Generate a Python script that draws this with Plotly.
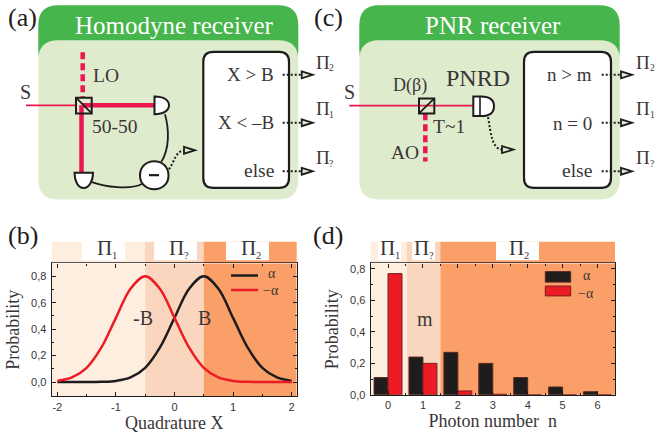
import plotly.graph_objects as go

W, H = 655, 436

# ---- data ----
quadrature_x = [-2, -1.75, -1.5, -1.25, -1, -0.75, -0.5, -0.25, 0, 0.25, 0.5, 0.75, 1, 1.25, 1.5, 1.75, 2]
prob_alpha = [0, 0, 0, 0.002, 0.009, 0.035, 0.108, 0.26, 0.485, 0.706, 0.8, 0.706, 0.485, 0.26, 0.108, 0.035, 0.009]
prob_minus_alpha = [0.009, 0.035, 0.108, 0.26, 0.485, 0.706, 0.8, 0.706, 0.485, 0.26, 0.108, 0.035, 0.009, 0.002, 0, 0, 0]
photon_n = [0, 1, 2, 3, 4, 5, 6]
photon_alpha = [0.11, 0.24, 0.27, 0.20, 0.11, 0.05, 0.02]
photon_minus_alpha = [0.77, 0.20, 0.025, 0.004, 0, 0, 0]
x_ticks_b = [-2, -1, 0, 1, 2]
x_labels_b = ["-2", "-1", "0", "1", "2"]
y_ticks_b = [0, 0.2, 0.4, 0.6, 0.8]
y_labels = ["0,0", "0,2", "0,4", "0,6", "0,8"]

# ---- colours ----
GREEN, LIGHT = "#46b54b", "#deebcd"
LASER, INK, TXT = "#ee1650", "#1f1c1d", "#3a3637"
BAND1, BAND2, BAND3 = "#fdeee0", "#f9d6bd", "#f99f67"
SERIF, SANS = "Liberation Serif", "Liberation Sans"


def px(x):
    return x / W


def py(y):
    return 1 - y / H


def conv(path):
    out, is_x = [], True
    for tok in path.split():
        if tok.isalpha():
            out.append(tok)
            is_x = True
        else:
            v = float(tok)
            out.append(f"{px(v) if is_x else py(v):.5f}")
            is_x = not is_x
    return " ".join(out)


shapes, notes = [], []


def P(path, fill=None, color=INK, width=1.5, dash=None):
    line = dict(color=color, width=width)
    if dash:
        line["dash"] = dash
    s = dict(type="path", xref="paper", yref="paper", path=conv(path), line=line, layer="above")
    if fill:
        s["fillcolor"] = fill
    if width == 0:
        s["line"] = dict(width=0)
    shapes.append(s)


def rrect(x0, y0, x1, y1, r):
    return (f"M {x0+r} {y0} L {x1-r} {y0} Q {x1} {y0} {x1} {y0+r} L {x1} {y1-r} Q {x1} {y1} {x1-r} {y1} "
            f"L {x0+r} {y1} Q {x0} {y1} {x0} {y1-r} L {x0} {y0+r} Q {x0} {y0} {x0+r} {y0} Z")


def T(text, x, y, size=17, color=TXT, anchor="center", font=SERIF, angle=0):
    notes.append(dict(text=text, x=px(x), y=py(y), xref="paper", yref="paper", showarrow=False,
                      xanchor=anchor, yanchor="middle", textangle=angle,
                      font=dict(family=font, size=size, color=color), borderpad=0))


def PI(sub, x, y, size=20):
    """Pi with a small index set beside it; x is the left edge of the Pi."""
    T("Π", x, y, size, anchor="left")
    T(sub, x + size * 0.72, y + size * 0.34, size * 0.5, anchor="left")


def triangle(x0, x1, y):
    P(f"M {x0} {y-3.5} L {x1} {y} L {x0} {y+3.5} Z", fill=LIGHT, width=1.8)


def output(x0, x1, y):
    P(f"M {x0} {y} L {x1} {y}", width=2, dash="2px,2px")
    triangle(x1, x1 + 11, y)


# ---- panel frames ----
for x0, x1 in [(38.3, 298.3), (359.3, 619.7)]:
    P(rrect(x0, 4.3, x1, 70, 20), fill=GREEN, width=0)
    P(rrect(x0, 40, x1, 201.7, 20), fill=LIGHT, width=0)

# ---- (a) homodyne ----
P("M 82.7 52 L 82.7 98", color=LASER, width=4.5, dash="7px,4px")
P("M 81.5 106 L 81.5 175", color=LASER, width=4.5)
P("M 83 106 L 155 106", color=LASER, width=4.5)
P("M 26 106 L 76 106", color=LASER, width=1.8)
P("M 76 98.3 L 91.7 98.3 L 91.7 114.3 L 76 114.3 Z", width=2)
P("M 76 98.3 L 91.7 114.3", width=1.8)
P("M 154.5 97 C 164 97 169 101 169 106 C 169 111 164 115 154.5 115 Z", fill="white", width=2)
P("M 74.5 174.5 L 93 174.5 C 93 183 89 190 83.7 190 C 78 190 74.5 183 74.5 174.5 Z", fill="white", width=2)
P("M 165 115 C 169 130 170 150 161 164", width=1.8)
P("M 92 184 C 105 189 130 192 142 186", width=1.8)
P("M 140 177.3 C 140 158 168.5 158 168.5 177.3 C 168.5 196 140 196 140 177.3 Z", fill="white", width=2)
P("M 149 177 L 159 177", width=2.2)
P("M 169 171 C 174 164 176 152 184 152", width=2, dash="2px,2px")
triangle(184, 195, 151.7)
P(rrect(203.3, 51.7, 289, 190, 10), fill="white", width=2.2)
output(282.7, 301.7, 75)
output(282.7, 301.7, 123.7)
output(282.7, 301.7, 173)

# ---- (c) PNR ----
P("M 349.3 106.3 L 473.3 106.3", color=LASER, width=1.8)
P("M 425.3 114 L 425.3 163", color=LASER, width=4.5, dash="7px,4px")
P("M 419 99 L 434.3 99 L 434.3 114.3 L 419 114.3 Z", width=2)
P("M 419 114.3 L 434.3 99", width=1.8)
P("M 473.3 97 L 481 97 C 490 97 494 101 494 107 C 494 113 490 117 481 117 L 473.3 117 Z", fill="white", width=2)
P("M 480 97 L 480 117", width=1.6)
P("M 488 118 C 491 135 492 150 502 151", width=2, dash="2px,2px")
triangle(502, 513.3, 151)
P(rrect(524, 51.7, 611, 190, 10), fill="white", width=2.2)
output(601.7, 621, 75)
output(601.7, 621, 123.7)
output(601.7, 621, 173)

# ---- strips above the plots ----
for x0, x1, c in [(51.7, 145, BAND1), (145, 203.6, BAND2), (203.6, 296.7, BAND3),
                  (370.7, 406.7, BAND1), (406.7, 440.3, BAND2), (440.3, 615, BAND3)]:
    P(f"M {x0} 244.7 L {x1} 244.7 L {x1} 265.5 L {x0} 265.5 Z", fill=c, width=0)
for x0, x1 in [(82, 125), (154, 197), (226, 269), (378.3, 401), (412, 435), (496, 539)]:
    P(f"M {x0} 244.7 L {x1} 244.7 L {x1} 263.5 L {x0} 263.5 Z", fill="white", width=0)

# ---- legends ----
P("M 231 279 L 258 279", color=INK, width=2.5)
P("M 231 293.7 L 258 293.7", color="#ed1c24", width=2.5)
P("M 545.3 275 L 570.7 275 L 570.7 285.7 L 545.3 285.7 Z", fill=INK, color="#5a2a20", width=1)
P("M 545.3 289.7 L 570.7 289.7 L 570.7 299.7 L 545.3 299.7 Z", fill="#ed1c24", color="#7a1a1a", width=1)

# ---- texts ----
T("(a)", 22, 17, 26, INK)
T("(c)", 328, 17, 26, INK)
T("(b)", 23, 238, 26, INK)
T("(d)", 328, 238, 26, INK)
T("Homodyne receiver", 174, 25, 25, "white")
T("PNR receiver", 493, 25, 25, "white")
T("S", 25, 92, 20)
T("LO", 106, 76, 19.5)
T("50-50", 115, 128, 19.5)
T("X &gt; B", 275, 75, 19, anchor="right")
T("X &lt; –B", 275, 123.7, 19, anchor="right")
T("else", 275, 172, 19.5, anchor="right")
T("S", 349, 92, 20)
T("D(β)", 410, 86, 18)
T("PNRD", 478, 78, 24)
T("T~1", 449, 128, 19.5)
T("AO", 405, 154, 19.5)
T("n &gt; m", 592.7, 75, 19, anchor="right")
T("n = 0", 592.7, 124, 19, anchor="right")
T("else", 592.7, 172, 19.5, anchor="right")
for x in (314.7, 635):
    PI("2", x, 62, 19)
    PI("1", x, 109, 19)
    PI("?", x, 159, 19)
PI("1", 96, 251.5, 21)
PI("?", 168, 251.5, 21)
PI("2", 240, 251.5, 21)
PI("1", 379, 251.5, 21)
PI("?", 413, 251.5, 21)
PI("2", 508, 251.5, 21)
T("-B", 142.7, 321.7, 20)
T("B", 204.7, 321.7, 20)
T("m", 425, 322.7, 20)
T("α", 272, 277, 14)
T("−α", 271, 294, 14)
T("α", 586.7, 279, 14)
T("−α", 586, 297, 14)

fig = go.Figure()
fig.add_trace(go.Scatter(x=quadrature_x, y=prob_alpha, mode="lines", name="α", xaxis="x", yaxis="y",
                         line=dict(color=INK, width=2.5, shape="spline")))
fig.add_trace(go.Scatter(x=quadrature_x, y=prob_minus_alpha, mode="lines", name="−α", xaxis="x", yaxis="y",
                         line=dict(color="#ed1c24", width=2.5, shape="spline")))
fig.add_trace(go.Bar(x=photon_n, y=photon_alpha, name="α", xaxis="x2", yaxis="y2",
                     marker=dict(color=INK, line=dict(color="#5a2a20", width=1))))
fig.add_trace(go.Bar(x=photon_n, y=photon_minus_alpha, name="−α", xaxis="x2", yaxis="y2",
                     marker=dict(color="#ed1c24", line=dict(color="#7a1a1a", width=1))))

# plot-area bands, tied to the data axes
bands = [("x", "y domain", -2.096, -0.5, BAND1), ("x", "y domain", -0.5, 0.5, BAND2), ("x", "y domain", 0.5, 2.086, BAND3),
         ("x2", "y2 domain", -0.496, 0.54, BAND1), ("x2", "y2 domain", 0.54, 1.5, BAND2), ("x2", "y2 domain", 1.5, 6.5, BAND3)]
band_shapes = [dict(type="rect", xref=xr, yref=yr, x0=a, x1=b, y0=0, y1=1, fillcolor=c, line=dict(width=0), layer="below")
               for xr, yr, a, b, c in bands]

tick = dict(ticks="inside", ticklen=4, tickwidth=1, tickcolor=INK, showline=True, linecolor=INK, linewidth=1.2,
            mirror="ticks", showgrid=False, zeroline=False, tickfont=dict(family=SANS, size=11, color=TXT))
title_font = dict(family=SERIF, size=18, color=TXT)

fig.update_layout(
    width=W, height=H, margin=dict(l=0, r=0, t=0, b=0), autosize=False,
    paper_bgcolor="white", plot_bgcolor="rgba(0,0,0,0)", showlegend=False,
    barmode="group", bargap=0.2, bargroupgap=0,
    shapes=band_shapes + shapes, annotations=notes,
    xaxis=dict(domain=[px(51.7), px(296.7)], range=[-2.096, 2.086], anchor="y", tickmode="array",
               tickvals=x_ticks_b, ticktext=x_labels_b, minor=dict(dtick=0.5, ticks="inside", ticklen=2, tickcolor=INK, tick0=0),
               title=dict(text="Quadrature X", font=title_font, standoff=3), **tick),
    yaxis=dict(domain=[py(401.7), py(266.7)], range=[-0.107, 0.897], anchor="x", tickmode="array", ticklabelstandoff=2,
               tickvals=y_ticks_b, ticktext=y_labels, minor=dict(dtick=0.1, ticks="inside", ticklen=2, tickcolor=INK, tick0=0),
               title=dict(text="Probability", font=title_font, standoff=6), **tick),
    xaxis2=dict(domain=[px(370.7), px(615)], range=[-0.496, 6.5], anchor="y2", tickmode="array",
                tickvals=photon_n, ticktext=[str(n) for n in photon_n],
                minor=dict(dtick=0.5, ticks="inside", ticklen=2, tickcolor=INK, tick0=0),
                title=dict(text="Photon number\u00a0 n", font=title_font, standoff=3), **tick),
    yaxis2=dict(domain=[py(400.3), py(266.7)], range=[0, 0.835], anchor="x2", tickmode="array", ticklabelstandoff=2,
                tickvals=y_ticks_b, ticktext=y_labels, minor=dict(dtick=0.1, ticks="inside", ticklen=2, tickcolor=INK, tick0=0),
                title=dict(text="Probability", font=title_font, standoff=6), **tick),
)

fig.write_html("out.html", config=dict(displayModeBar=False),
               post_script="document.body.style.margin='0';document.body.style.overflow='hidden';")
